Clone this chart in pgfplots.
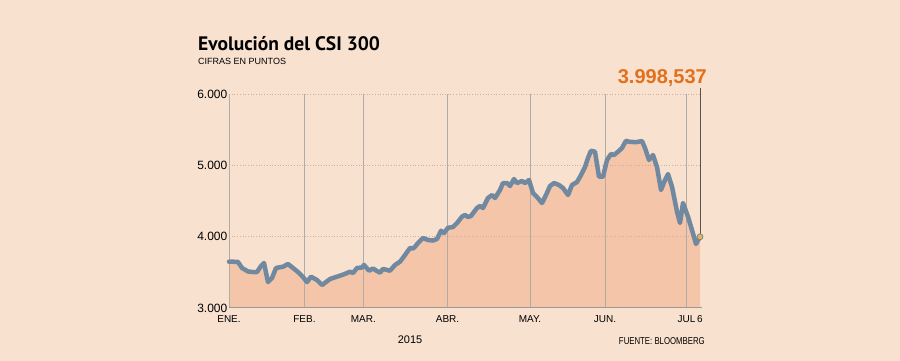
\documentclass[border=0pt]{standalone}
\usepackage{fontspec}
\setmainfont{Liberation Sans}
\newfontfamily\ptsans{PT Sans}
\usepackage{pgfplots}
\usepackage{pgfplotstable}
\pgfplotsset{compat=1.18}
\definecolor{bgc}{HTML}{F9E1D0}
\definecolor{fillc}{HTML}{F4C5A8}
\definecolor{linec}{HTML}{7089A0}
\definecolor{vgray}{HTML}{B3ABA5}
\definecolor{hgray}{HTML}{D2AE98}
\definecolor{axisgray}{HTML}{9E9894}
\definecolor{darkline}{HTML}{5A524C}
\definecolor{orangec}{HTML}{E2711D}
\definecolor{dotc}{HTML}{F2B441}
\pgfplotstableread{
x y
229 3649
233 3649
238 3645
242 3561
248 3512
253 3504
257 3504
261 3589
264 3631
268 3364
272 3420
276 3561
283 3579
288 3617
293 3561
298 3504
303 3434
307 3364
311 3439
317 3392
322 3322
326 3364
330 3406
337 3439
342 3462
347 3490
350 3509
353 3490
357 3561
362 3568
364 3603
369 3523
373 3554
377 3518
380 3495
383 3547
387 3533
390 3523
395 3603
400 3649
405 3743
410 3841
413 3834
415 3859
418 3911
423 3981
428 3953
433 3946
437 3967
441 4083
444 4051
448 4125
453 4135
457 4191
462 4280
465 4304
468 4276
471 4290
477 4402
480 4430
483 4402
488 4542
492 4584
495 4542
500 4654
503 4752
507 4752
510 4710
514 4808
517 4752
522 4780
525 4752
529 4794
533 4612
537 4556
542 4472
546 4584
550 4710
554 4752
559 4724
563 4682
568 4584
572 4724
577 4766
581 4864
585 4977
588 5103
591 5205
595 5191
599 4841
603 4841
607 5075
611 5159
614 5145
618 5191
622 5243
626 5345
629 5331
633 5327
637 5327
642 5341
645 5243
649 5075
653 5145
657 4977
661 4654
665 4794
668 4878
672 4700
677 4350
680 4191
683 4472
688 4280
692 4093
696 3897
700 3998.537
}\csidata
\begin{document}
\begin{tikzpicture}
\fill[bgc] (0,0) rectangle (900pt,361pt);
\begin{axis}[
  at={(229pt,53pt)}, anchor=south west,
  scale only axis, width=471pt, height=214pt,
  xmin=229, xmax=700, ymin=3000, ymax=6000,
  clip=false,
  axis lines*=left,
  axis line style={draw=none},
  xtick={229,304.5,363.3,447.5,530,605,686.5,700},
  xticklabels={ENE.,FEB.,MAR.,ABR.,MAY.,JUN.,JUL,6},
  ytick={3000,4000,5000,6000},
  yticklabels={3.000,4.000,5.000,6.000},
  major tick length=0pt,
  xticklabel style={font=\fontsize{10}{12}\selectfont, yshift=-4pt, text=black},
  yticklabel style={font=\fontsize{12}{14}\selectfont, inner sep=1.5pt, text=black},
  /pgf/number format/assume math mode=true,
]
\addplot[fill=fillc, draw=none] table[x=x,y=y] {\csidata} \closedcycle;
\foreach \yy in {4000,5000,6000} {
  \edef\tmp{\noexpand\draw[hgray, dotted, line width=0.7pt] (axis cs:229,\yy) -- (axis cs:700,\yy);}\tmp
}
\foreach \xx in {229,304.5,363.3,447.5,530,605,686.5} {
  \edef\tmp{\noexpand\draw[vgray, line width=0.8pt] (axis cs:\xx,3000) -- (axis cs:\xx,6000);}\tmp
}
\draw[axisgray, line width=1pt] (axis cs:229,3000) -- (axis cs:701.5,3000);
\addplot[linec, line width=4.5pt, line join=round, line cap=round] table[x=x,y=y] {\csidata};
\draw[darkline, line width=0.8pt] (axis cs:700,3998.537) -- (axis cs:700,6084);
\addplot[only marks, mark=*, mark size=3pt, mark options={fill=dotc, draw=linec, line width=0.8pt}] coordinates {(700,3998.537)};
\end{axis}
\node[anchor=base west, inner sep=0, font=\ptsans\bfseries\fontsize{19.5}{22}\selectfont] at (198pt,310pt) {Evolución del CSI 300};
\node[anchor=base west, inner sep=0, font=\fontsize{9}{11}\selectfont] at (198pt,296.7pt) {CIFRAS EN PUNTOS};
\node[anchor=base east, inner sep=0, text=orangec, font=\bfseries\fontsize{20}{22}\selectfont] at (707pt,277pt) {3.998,537};
\node[anchor=base, inner sep=0, font=\fontsize{11}{13}\selectfont] at (410pt,17pt) {2015};
\node[anchor=base east, inner sep=0, font=\fontsize{10}{12}\selectfont] at (705pt,16pt) {\scalebox{0.78}[1]{FUENTE: BLOOMBERG}};
\end{tikzpicture}
\end{document}
